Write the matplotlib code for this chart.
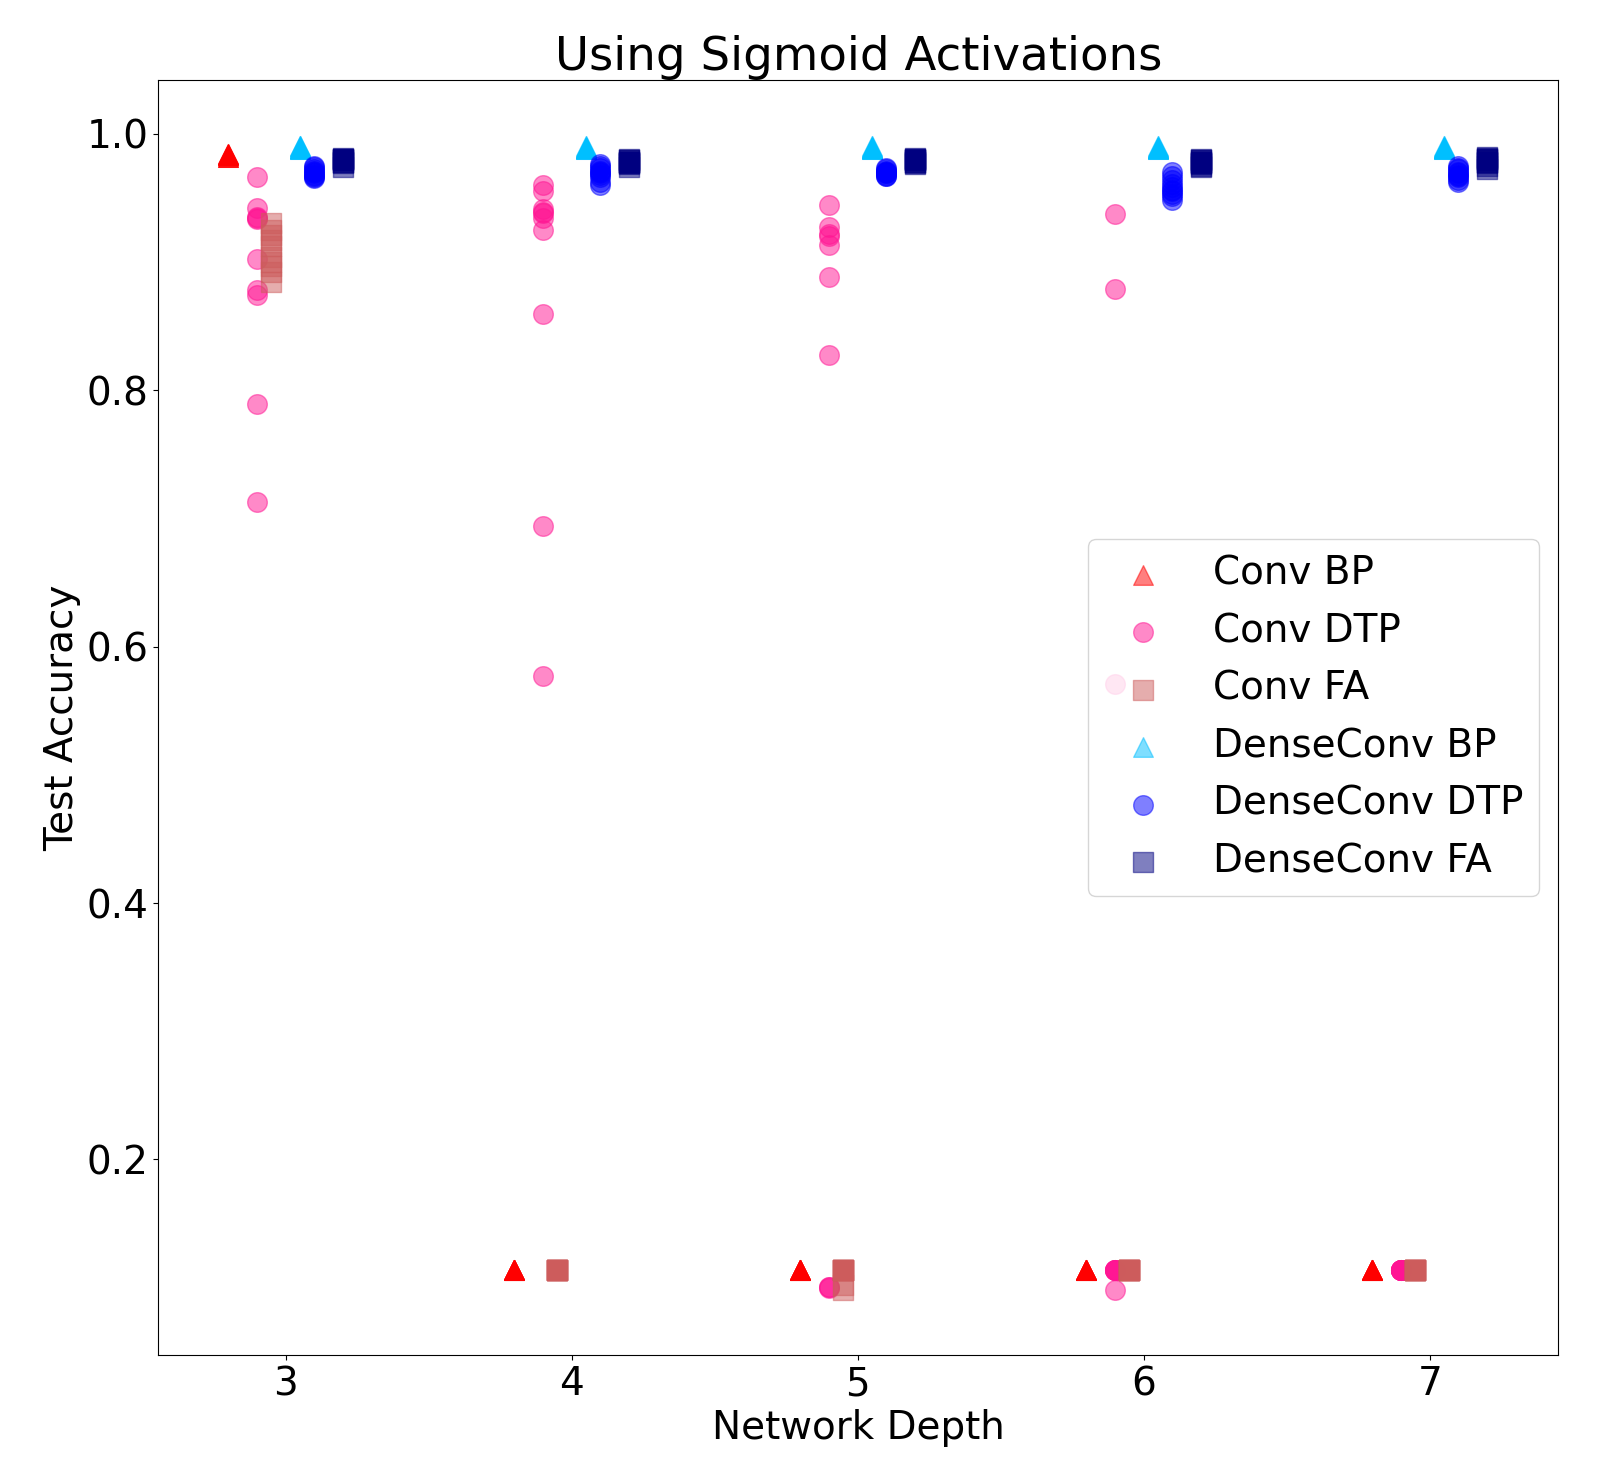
"""
Recreate: test accuracy vs network depth for sigmoid activations.
"""
import numpy as np
import matplotlib
matplotlib.use('Agg')
import matplotlib.pyplot as plt

plt.rcParams['font.size'] = 28

depths = [3, 4, 5, 6, 7]

# ---- Test accuracy per run (rows = depth 3..7) ----
conv_bp = [
    [0.984, 0.983, 0.982, 0.983, 0.984, 0.982, 0.983, 0.983, 0.984, 0.982],
    [0.1135, 0.1135, 0.1135, 0.1135, 0.1135, 0.1135, 0.1135, 0.1135, 0.1135, 0.1135],
    [0.1135, 0.1135, 0.1135, 0.1135, 0.1135, 0.1135, 0.1135, 0.1135, 0.1135, 0.1135],
    [0.1135, 0.1135, 0.1135, 0.1135, 0.1135, 0.1135, 0.1135, 0.1135, 0.1135, 0.1135],
    [0.1135, 0.1135, 0.1135, 0.1135, 0.1135, 0.1135, 0.1135, 0.1135, 0.1135, 0.1135],
]
conv_dtp = [
    [0.966, 0.942, 0.935, 0.933, 0.934, 0.902, 0.878, 0.874, 0.789, 0.713],
    [0.960, 0.955, 0.941, 0.938, 0.939, 0.934, 0.925, 0.859, 0.694, 0.577],
    [0.944, 0.927, 0.922, 0.920, 0.913, 0.888, 0.827, 0.1009, 0.1009, 0.0995],
    [0.937, 0.879, 0.571, 0.1135, 0.1135, 0.1135, 0.1135, 0.1135, 0.1135, 0.0986],
    [0.1135, 0.1135, 0.1135, 0.1135, 0.1135, 0.1135, 0.1135, 0.1135, 0.1135, 0.1135],
]
conv_fa = [
    [0.930, 0.925, 0.921, 0.917, 0.912, 0.904, 0.900, 0.897, 0.892, 0.884],
    [0.1135, 0.1135, 0.1135, 0.1135, 0.1135, 0.1135, 0.1135, 0.1135, 0.1135, 0.1135],
    [0.1135, 0.1135, 0.1135, 0.1135, 0.1135, 0.1135, 0.1135, 0.1135, 0.102, 0.098],
    [0.1135, 0.1135, 0.1135, 0.1135, 0.1135, 0.1135, 0.1135, 0.1135, 0.1135, 0.1135],
    [0.1135, 0.1135, 0.1135, 0.1135, 0.1135, 0.1135, 0.1135, 0.1135, 0.1135, 0.1135],
]
dense_bp = [
    [0.990, 0.989, 0.988, 0.989, 0.990, 0.988, 0.989, 0.989, 0.990, 0.988],
    [0.990, 0.989, 0.988, 0.989, 0.989, 0.988, 0.989, 0.990, 0.989, 0.988],
    [0.990, 0.989, 0.988, 0.989, 0.989, 0.988, 0.989, 0.990, 0.989, 0.988],
    [0.990, 0.989, 0.988, 0.989, 0.989, 0.988, 0.989, 0.990, 0.989, 0.988],
    [0.990, 0.989, 0.988, 0.989, 0.989, 0.988, 0.989, 0.990, 0.989, 0.988],
]
dense_dtp = [
    [0.975, 0.974, 0.972, 0.971, 0.970, 0.969, 0.968, 0.967, 0.966, 0.965],
    [0.976, 0.975, 0.973, 0.971, 0.970, 0.969, 0.968, 0.966, 0.962, 0.960],
    [0.973, 0.972, 0.971, 0.970, 0.970, 0.969, 0.969, 0.968, 0.967, 0.967],
    [0.970, 0.967, 0.964, 0.961, 0.958, 0.956, 0.955, 0.953, 0.951, 0.948],
    [0.975, 0.973, 0.972, 0.970, 0.969, 0.968, 0.967, 0.966, 0.964, 0.962],
]
dense_fa = [
    [0.981, 0.980, 0.980, 0.980, 0.979, 0.979, 0.978, 0.978, 0.977, 0.974],
    [0.980, 0.979, 0.979, 0.978, 0.978, 0.978, 0.977, 0.977, 0.976, 0.974],
    [0.981, 0.980, 0.980, 0.979, 0.979, 0.979, 0.978, 0.978, 0.977, 0.976],
    [0.980, 0.979, 0.979, 0.978, 0.978, 0.977, 0.977, 0.976, 0.975, 0.974],
    [0.982, 0.981, 0.980, 0.980, 0.979, 0.978, 0.978, 0.977, 0.975, 0.972],
]

# label, data, x offset, marker, colour
series = [
    ("Conv BP", conv_bp, -0.2, '^', 'red'),
    ("Conv DTP", conv_dtp, -0.1, 'o', 'deeppink'),
    ("Conv FA", conv_fa, -0.05, 's', 'indianred'),
    ("DenseConv BP", dense_bp, 0.05, '^', 'deepskyblue'),
    ("DenseConv DTP", dense_dtp, 0.1, 'o', 'blue'),
    ("DenseConv FA", dense_fa, 0.2, 's', 'navy'),
]

fig, ax = plt.subplots(figsize=(16, 14.78), dpi=100)
fig.subplots_adjust(left=0.099, right=0.974, top=0.946, bottom=0.083)

for label, vals, off, marker, color in series:
    vals = np.array(vals)
    xs = np.repeat(np.array(depths) + off, vals.shape[1])
    ax.scatter(xs, vals.ravel(), s=200, marker=marker, color=color, alpha=0.5, label=label)

ax.set_xlim(2.555, 7.45)
ax.set_ylim(0.0473, 1.0419)
ax.set_xticks(depths)
ax.set_yticks([0.2, 0.4, 0.6, 0.8, 1.0])
ax.set_title("Using Sigmoid Activations", fontsize=33.6)
ax.set_xlabel("Network Depth")
ax.set_ylabel("Test Accuracy")
ax.legend(loc='center right')

plt.savefig("out.png", dpi=100)
plt.close()
